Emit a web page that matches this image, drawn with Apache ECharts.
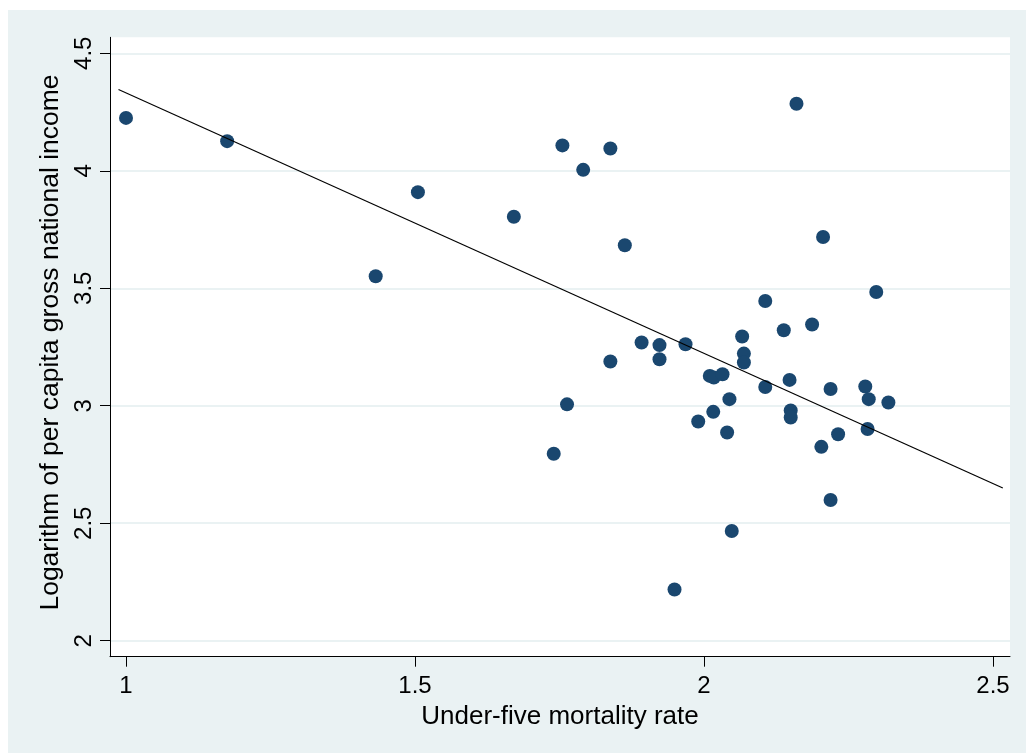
<!DOCTYPE html>
<html>
<head>
<meta charset="utf-8">
<script src="https://cdn.jsdelivr.net/npm/echarts@6/dist/echarts.min.js"></script>
<style>
  html, body { margin: 0; padding: 0; background: #ffffff; }
  #chart { position: absolute; left: 8px; top: 10px; width: 1018px; height: 743px; }
</style>
</head>
<body>
<div id="chart"></div>
<script>
// under-five mortality rate (x) vs log per capita GNI (y)
const mortality = [
  1.000, 1.175, 1.432, 1.505, 1.671, 1.755, 1.791, 1.838, 1.863, 1.740,
  1.763, 1.838, 1.892, 1.923, 1.923, 1.968, 1.990, 2.016, 2.010, 2.017,
  2.032, 2.040, 2.044, 2.048, 2.066, 2.069, 2.069, 2.106, 2.106, 2.138,
  2.148, 2.150, 2.150, 2.160, 2.187, 2.206, 2.203, 2.219, 2.219, 2.232,
  2.279, 2.285, 2.283, 2.298, 2.319, 1.949
];
const logIncome = [
  4.225, 4.126, 3.551, 3.909, 3.804, 4.108, 4.004, 4.095, 3.683, 2.796,
  3.006, 3.188, 3.269, 3.258, 3.198, 3.262, 2.933, 2.974, 3.127, 3.120,
  3.134, 2.886, 3.028, 2.467, 3.295, 3.222, 3.184, 3.446, 3.080, 3.321,
  3.110, 2.980, 2.950, 4.285, 3.346, 3.718, 2.825, 3.071, 2.599, 2.879,
  3.082, 3.028, 2.901, 3.484, 3.014, 2.218
];
// fitted line end points
const fitX = [0.987, 2.517];
const fitY = [4.346, 2.650];

const xTicks = [1, 1.5, 2, 2.5];
const yTicks = [2, 2.5, 3, 3.5, 4, 4.5];

const FONT = '"Liberation Sans", Arial, Helvetica, sans-serif';

const chart = echarts.init(document.getElementById('chart'));

chart.setOption({
  animation: false,
  backgroundColor: '#EAF2F3',
  textStyle: { fontFamily: FONT },
  grid: {
    left: 102,
    top: 27.3,
    width: 900,
    height: 619.4,
    show: true,
    backgroundColor: '#ffffff',
    borderWidth: 0
  },
  xAxis: {
    type: 'value',
    min: 0.9723,
    max: 2.5294,
    name: 'Under-five mortality rate',
    nameLocation: 'middle',
    nameGap: 40,
    nameTextStyle: { color: '#000', fontSize: 26, fontFamily: FONT },
    axisLine: { show: true, onZero: false, lineStyle: { color: '#000', width: 1 } },
    axisTick: { show: true, length: 10, customValues: xTicks, lineStyle: { color: '#000', width: 1 } },
    axisLabel: { customValues: xTicks, color: '#000', fontSize: 24, margin: 18, fontFamily: FONT },
    splitLine: { show: false }
  },
  yAxis: {
    type: 'value',
    min: 1.932,
    max: 4.568,
    name: 'Logarithm of per capita gross national income',
    nameLocation: 'middle',
    nameRotate: 90,
    nameGap: 39,
    nameTextStyle: { color: '#000', fontSize: 26.5, fontFamily: FONT, padding: [0, 0, 0, 9] },
    axisLine: { show: true, onZero: false, lineStyle: { color: '#000', width: 1 } },
    axisTick: { show: true, length: 10, customValues: yTicks, lineStyle: { color: '#000', width: 1 } },
    axisLabel: { customValues: yTicks, rotate: 90, color: '#000', fontSize: 24, margin: 14, fontFamily: FONT },
    splitLine: { show: true, lineStyle: { color: '#EAF2F3', width: 2 } }
  },
  series: [
    {
      type: 'scatter',
      data: mortality.map((x, i) => [x, logIncome[i]]),
      symbol: 'circle',
      symbolSize: 14,
      itemStyle: { color: '#1A476F', opacity: 1 },
      z: 2
    },
    {
      type: 'line',
      data: fitX.map((x, i) => [x, fitY[i]]),
      symbol: 'none',
      lineStyle: { color: '#000', width: 1.2 },
      z: 3
    }
  ]
});
</script>
</body>
</html>
